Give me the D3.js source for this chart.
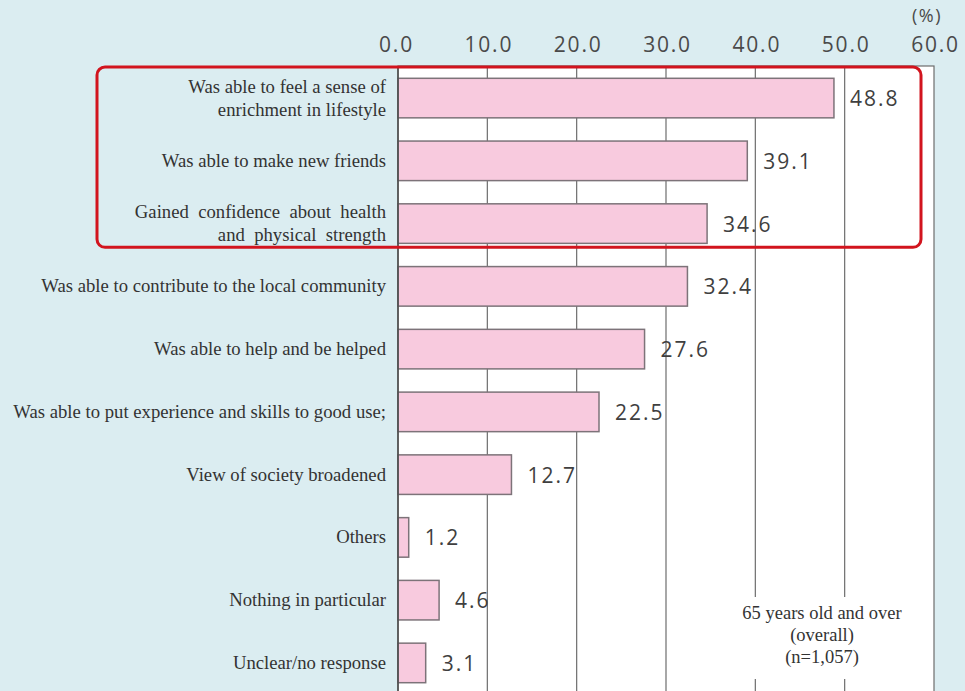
<!DOCTYPE html>
<html>
<head>
<meta charset="utf-8">
<script src="https://cdn.jsdelivr.net/npm/d3@7"></script>
<style>
  html, body { margin: 0; padding: 0; background: #dbedf1; }
  svg { display: block; }
  .serif { font-family: "Liberation Serif", "Times New Roman", Tinos, serif; white-space: pre; }
  .num { font-family: "Open Sans", "Noto Sans", sans-serif; }
</style>
</head>
<body>
<svg id="chart" width="965" height="691"></svg>
<script>
// Benefits of participating in activities (65 years old and over)
const categories = [
  ["Was able to feel a sense of", "enrichment in lifestyle"],
  ["Was able to make new friends"],
  ["Gained  confidence  about  health", "and  physical  strength"],
  ["Was able to contribute to the local community"],
  ["Was able to help and be helped"],
  ["Was able to put experience and skills to good use;"],
  ["View of society broadened"],
  ["Others"],
  ["Nothing in particular"],
  ["Unclear/no response"]
];
const values = [48.8, 39.1, 34.6, 32.4, 27.6, 22.5, 12.7, 1.2, 4.6, 3.1];
const tickValues = [0, 10, 20, 30, 40, 50, 60];
const noteLines = ["65 years old and over", "(overall)", "(n=1,057)"];
const highlightCount = 3;

const svg = d3.select("#chart");
const plot = { left: 398, right: 934, top: 66, bottom: 700 };

const x = d3.scaleLinear().domain([0, 60]).range([plot.left, plot.right]);
const y = d3.scaleBand()
  .domain(d3.range(categories.length))
  .range([plot.top + 1, plot.top + 1 + 62.7 * categories.length])
  .paddingInner(0.37)
  .paddingOuter(0.18);

// plot background
svg.append("rect")
  .attr("x", plot.left).attr("y", plot.top)
  .attr("width", plot.right - plot.left).attr("height", plot.bottom - plot.top)
  .attr("fill", "#ffffff")
  .attr("stroke", "#6d6d6d").attr("stroke-width", 1.2);

// vertical gridlines
svg.append("g")
  .selectAll("line")
  .data(tickValues.slice(1, -1))
  .join("line")
  .attr("x1", d => x(d)).attr("x2", d => x(d))
  .attr("y1", plot.top).attr("y2", plot.bottom)
  .attr("stroke", "#6d6d6d").attr("stroke-width", 1.2);

// top axis labels
const axis = d3.axisTop(x).tickValues(tickValues).tickFormat(d3.format(".1f")).tickSize(0).tickPadding(0);
const axisG = svg.append("g").attr("transform", `translate(0, 52)`).call(axis);
axisG.select(".domain").remove();
axisG.selectAll("text")
  .attr("class", "num")
  .attr("font-family", null)
  .style("font-size", "21px")
  .style("letter-spacing", "1.8px")
  .attr("fill", "#4a4a4a")
  .attr("dx", (d, i) => i === 0 ? -2 : 1);

svg.append("text")
  .attr("class", "num")
  .attr("x", x(60) - 7).attr("y", 22)
  .attr("text-anchor", "middle")
  .style("font-size", "18px")
  .style("letter-spacing", "1.5px")
  .attr("fill", "#4a4a4a")
  .text("(%)");

// bars
svg.append("g")
  .selectAll("rect")
  .data(values)
  .join("rect")
  .attr("x", x(0))
  .attr("y", (d, i) => y(i))
  .attr("width", d => x(d) - x(0))
  .attr("height", y.bandwidth())
  .attr("fill", "#f8cade")
  .attr("stroke", "#7d7379")
  .attr("stroke-width", 1.5);

// left axis line
svg.append("line")
  .attr("x1", plot.left).attr("x2", plot.left)
  .attr("y1", plot.top).attr("y2", plot.bottom)
  .attr("stroke", "#4a4a4a").attr("stroke-width", 1.5);

// value labels
svg.append("g")
  .selectAll("text")
  .data(values)
  .join("text")
  .attr("class", "num")
  .attr("x", d => x(d) + 16)
  .attr("y", (d, i) => y(i) + y.bandwidth() / 2 + 8)
  .style("font-size", "21px")
  .style("letter-spacing", "2px")
  .attr("fill", "#3f3f3f")
  .text(d => d.toFixed(1));

// category labels
const catG = svg.append("g")
  .selectAll("text")
  .data(categories)
  .join("text")
  .attr("class", "serif")
  .attr("text-anchor", "end")
  .style("font-size", "18.7px")
  .attr("fill", "#333333");
catG.each(function(lines, i) {
  const cy = y(i) + y.bandwidth() / 2;
  const lh = 23;
  const y0 = cy - (lines.length - 1) * lh / 2 + 6;
  d3.select(this).selectAll("tspan")
    .data(lines)
    .join("tspan")
    .attr("x", 386)
    .attr("y", (d, j) => y0 + j * lh)
    .text(d => d);
});

// highlight frame around the top items
const hlTop = 67;
const hlBottom = y(highlightCount - 1) + y.bandwidth() + 4;
svg.append("rect")
  .attr("x", 97).attr("y", hlTop)
  .attr("width", 921 - 97).attr("height", hlBottom - hlTop)
  .attr("rx", 8).attr("ry", 8)
  .attr("fill", "none")
  .attr("stroke", "#d2141e")
  .attr("stroke-width", 3);

// sample note
const noteX = 822;
svg.append("rect")
  .attr("x", 725).attr("y", 597)
  .attr("width", 195).attr("height", 82)
  .attr("fill", "#ffffff");
svg.append("g")
  .selectAll("text")
  .data(noteLines)
  .join("text")
  .attr("class", "serif")
  .attr("x", noteX)
  .attr("y", (d, i) => 619 + i * 22)
  .attr("text-anchor", "middle")
  .style("font-size", "18.5px")
  .attr("fill", "#333333")
  .text(d => d);
</script>
</body>
</html>
